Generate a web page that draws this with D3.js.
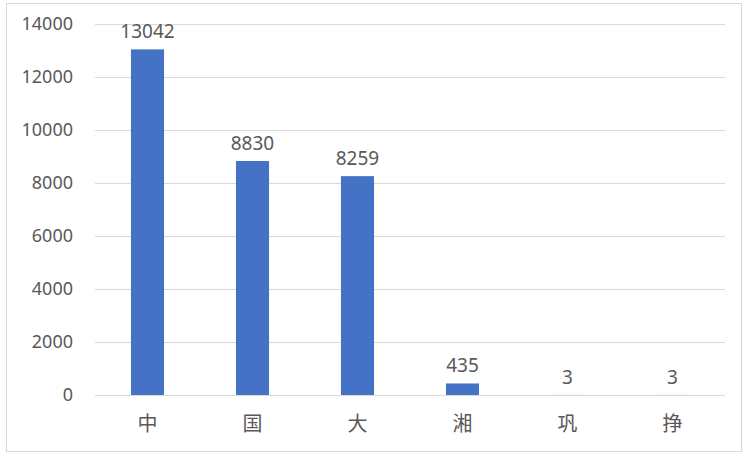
<!DOCTYPE html>
<html>
<head>
<meta charset="utf-8">
<script src="https://cdn.jsdelivr.net/npm/d3@7"></script>
<style>
    body { margin: 0; background: #fff; }
    text { font-family: "Noto Sans", "Noto Sans CJK SC", sans-serif; fill: #595959; }
</style>
</head>
<body>
<div id="chart"></div>
<script>
    // chart data
    const categories = ["中", "国", "大", "湘", "巩", "挣"];
    const values = [13042, 8830, 8259, 435, 3, 3];
    const yTicks = [0, 2000, 4000, 6000, 8000, 10000, 12000, 14000];

    const width = 747;
    const height = 458;
    const margin = { top: 24, right: 22, bottom: 63, left: 95 };

    const svg = d3.select("#chart").append("svg").attr("width", width).attr("height", height);

    // outer border
    svg.append("rect")
        .attr("x", 6.5).attr("y", 3.5)
        .attr("width", 735).attr("height", 448)
        .attr("fill", "#fff").attr("stroke", "#d9d9d9");

    const x = d3.scaleBand()
        .domain(categories)
        .range([margin.left, width - margin.right])
        .paddingInner(0.685)
        .paddingOuter(0.3425);

    const y = d3.scaleLinear()
        .domain([0, 14000])
        .range([height - margin.bottom, margin.top]);

    // gridlines
    svg.append("g")
        .selectAll("line")
        .data(yTicks)
        .join("line")
        .attr("x1", margin.left)
        .attr("x2", width - margin.right)
        .attr("y1", (d) => Math.round(y(d)) + 0.5)
        .attr("y2", (d) => Math.round(y(d)) + 0.5)
        .attr("stroke", "#d9d9d9");

    // y axis labels
    const yAxis = svg.append("g")
        .attr("transform", `translate(${margin.left},0)`)
        .call(d3.axisLeft(y).tickValues(yTicks).tickSize(0).tickPadding(22).tickFormat(d3.format("d")));
    yAxis.select(".domain").remove();
    yAxis.selectAll("text").style("font-size", "18px").attr("fill", "#595959");

    // bars
    svg.append("g")
        .selectAll("rect")
        .data(values)
        .join("rect")
        .attr("x", (d, i) => x(categories[i]))
        .attr("y", (d) => y(d))
        .attr("width", x.bandwidth())
        .attr("height", (d) => y(0) - y(d))
        .attr("fill", "#4472c4");

    // data labels
    svg.append("g")
        .selectAll("text")
        .data(values)
        .join("text")
        .attr("x", (d, i) => x(categories[i]) + x.bandwidth() / 2)
        .attr("y", (d) => y(d) - 11)
        .attr("text-anchor", "middle")
        .style("font-size", "19px")
        .text((d) => d);

    // x axis labels
    const xAxis = svg.append("g")
        .attr("transform", `translate(0,${y(0)})`)
        .call(d3.axisBottom(x).tickSize(0).tickPadding(22));
    xAxis.select(".domain").remove();
    xAxis.selectAll("text")
        .style("font-size", "20px")
        .style("font-family", "'Noto Sans CJK SC', sans-serif")
        .attr("fill", "#595959");
</script>
</body>
</html>
